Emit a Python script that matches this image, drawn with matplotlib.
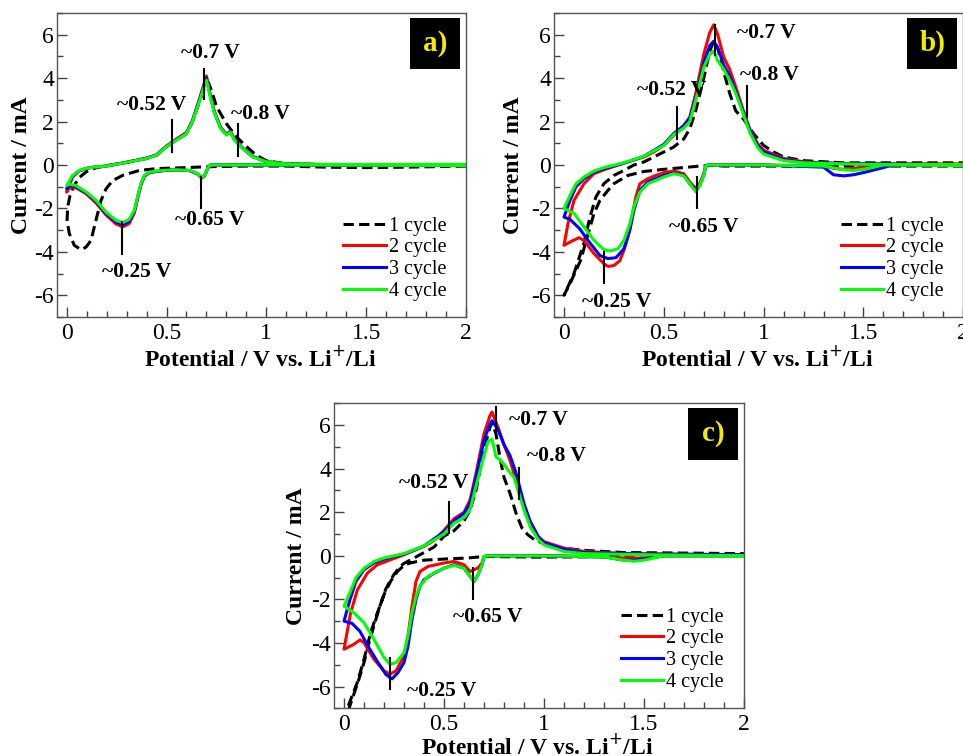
import numpy as np
import matplotlib
matplotlib.use('Agg')
import matplotlib.pyplot as plt
from matplotlib.patches import Rectangle
from matplotlib.ticker import MultipleLocator

plt.rcParams['font.family'] = ['Liberation Serif', 'DejaVu Serif']
plt.rcParams['axes.unicode_minus'] = False

# ---- panel a) ----
# cycle 1 (dashed)
a1_v = [2.0, 1.7, 1.5, 1.3, 1.1, 0.9, 0.7, 0.6, 0.5, 0.447, 0.364, 0.28, 0.23, 0.197, 0.172, 0.155, 0.138,
        0.122, 0.097, 0.072, 0.038, 0.013, 0.002, 0.005, 0.017, 0.035, 0.06, 0.1, 0.15, 0.2, 0.3, 0.4, 0.45,
        0.5, 0.55, 0.6, 0.63, 0.66, 0.69, 0.71, 0.73, 0.75, 0.8, 0.85, 0.9, 0.95, 1.0, 1.1, 1.3, 2.0]
a1_i = [-0.05, -0.1, -0.12, -0.1, -0.05, -0.05, -0.08, -0.12, -0.15, -0.17, -0.25, -0.48, -0.72, -1.1, -1.63,
        -2.24, -2.86, -3.47, -3.78, -3.9, -3.7, -3.15, -2.55, -1.93, -1.4, -1.0, -0.6, -0.3, -0.12, -0.03, 0.12,
        0.3, 0.45, 0.85, 1.15, 1.45, 2.0, 2.8, 3.55, 3.8, 3.3, 2.7, 1.9, 1.3, 0.85, 0.45, 0.2, 0.05, 0.02, 0.0]
# cycles 2-4 share the same potential points
a_v = [2.0, 1.5, 1.0, 0.8, 0.72, 0.71, 0.69, 0.676, 0.656, 0.614, 0.55, 0.5, 0.45, 0.414, 0.389, 0.372, 0.355,
       0.339, 0.313, 0.28, 0.247, 0.197, 0.147, 0.097, 0.047, 0.013, 0.0, 0.03, 0.063, 0.113, 0.197, 0.3, 0.4,
       0.45, 0.5, 0.55, 0.6, 0.63, 0.66, 0.69, 0.70, 0.72, 0.74, 0.77, 0.80, 0.82, 0.84, 0.88, 0.93, 1.0, 1.1,
       1.3, 2.0]
a2_i = [0, 0, 0, 0, 0, -0.08, -0.5, -0.6, -0.42, -0.26, -0.23, -0.25, -0.3, -0.36, -0.52, -0.92, -1.55, -2.2,
        -2.7, -2.85, -2.72, -2.3, -1.75, -1.32, -1.05, -1.05, -1.25, -0.55, -0.27, -0.13, -0.05, 0.13, 0.32,
        0.47, 0.88, 1.2, 1.5, 2.05, 2.9, 3.8, 4.1, 3.2, 2.45, 1.75, 1.42, 1.55, 1.2, 0.8, 0.4, 0.16, 0.05, 0.02, 0.0]
a3_i = [0, 0, 0, 0, 0, -0.08, -0.49, -0.59, -0.41, -0.25, -0.22, -0.24, -0.29, -0.34, -0.5, -0.89, -1.5, -2.14,
        -2.6, -2.75, -2.63, -2.23, -1.68, -1.28, -1.0, -0.95, -1.1, -0.5, -0.26, -0.12, -0.05, 0.12, 0.31,
        0.46, 0.86, 1.17, 1.47, 2.02, 2.85, 3.72, 4.0, 3.15, 2.42, 1.72, 1.4, 1.52, 1.17, 0.78, 0.39, 0.15, 0.05, 0.02, 0.0]
a4_i = [0, 0, 0, 0, 0, -0.08, -0.48, -0.58, -0.4, -0.25, -0.22, -0.24, -0.28, -0.33, -0.48, -0.86, -1.47, -2.08,
        -2.5, -2.65, -2.55, -2.17, -1.63, -1.24, -0.95, -0.88, -0.95, -0.48, -0.25, -0.12, -0.05, 0.12, 0.3,
        0.45, 0.85, 1.15, 1.45, 2.0, 2.8, 3.65, 3.9, 3.1, 2.4, 1.7, 1.38, 1.5, 1.15, 0.77, 0.38, 0.15, 0.05, 0.02, 0.0]

# ---- panel b) ----
b1_v = [2.0, 1.5, 1.0, 0.8, 0.75, 0.68, 0.62, 0.5, 0.4, 0.32, 0.25, 0.22, 0.18, 0.15, 0.117, 0.083, 0.033, 0.0,
        0.05, 0.1, 0.13, 0.16, 0.2, 0.25, 0.3, 0.35, 0.4, 0.45, 0.5, 0.55, 0.6, 0.63, 0.66, 0.7, 0.73, 0.75,
        0.77, 0.8, 0.83, 0.86, 0.9, 0.95, 1.0, 1.05, 1.1, 1.2, 1.4, 2.0]
b1_i = [-0.05, -0.05, -0.05, -0.05, -0.02, -0.05, -0.1, -0.2, -0.3, -0.48, -0.86, -1.17, -1.63, -2.24, -3.3,
        -4.4, -5.4, -6.0, -5.0, -3.6, -2.4, -1.47, -0.86, -0.48, -0.25, 0.0, 0.14, 0.37, 0.6, 0.83, 1.2, 1.67,
        2.5, 4.0, 5.25, 5.7, 5.4, 4.3, 3.3, 2.5, 2.1, 1.44, 0.9, 0.6, 0.37, 0.2, 0.1, 0.1]
b2_v = [2.0, 1.6, 1.5, 1.45, 1.4, 1.35, 1.3, 1.0, 0.72, 0.71, 0.70, 0.68, 0.66, 0.63, 0.6, 0.55, 0.5, 0.46,
        0.42, 0.38, 0.36, 0.34, 0.32, 0.3, 0.28, 0.25, 0.22, 0.2, 0.15, 0.1, 0.075, 0.04, 0.0,
        0.02, 0.05, 0.1, 0.15, 0.2, 0.3, 0.4, 0.45, 0.5, 0.55, 0.6, 0.63, 0.66, 0.7, 0.73, 0.75, 0.77, 0.8,
        0.83, 0.86, 0.9, 0.93, 0.97, 1.0, 1.1, 1.2, 1.4, 2.0]
b2_i = [0, 0, -0.1, -0.15, -0.2, -0.15, -0.05, 0, 0, -0.05, -0.4, -0.85, -1.08, -0.78, -0.4, -0.28, -0.35,
        -0.48, -0.63, -0.86, -1.47, -2.4, -3.32, -3.93, -4.4, -4.63, -4.67, -4.55, -4.08, -3.47, -3.35, -3.5,
        -3.7, -2.7, -1.63, -0.86, -0.4, -0.22, 0.09, 0.37, 0.6, 0.91, 1.37, 1.83, 2.2, 3.3, 5.1, 6.1, 6.46,
        6.0, 4.97, 4.4, 3.6, 2.45, 1.67, 0.98, 0.68, 0.3, 0.15, 0.05, 0.05]
b3_v = [2.0, 1.65, 1.5, 1.45, 1.4, 1.35, 1.3, 1.0, 0.72, 0.71, 0.70, 0.68, 0.66, 0.63, 0.6, 0.55, 0.5, 0.42,
        0.38, 0.35, 0.33, 0.3, 0.26, 0.22, 0.18, 0.12, 0.08, 0.03, 0.0,
        0.03, 0.06, 0.1, 0.15, 0.2, 0.3, 0.4, 0.5, 0.55, 0.6, 0.63, 0.66, 0.7, 0.73, 0.75, 0.77, 0.8, 0.83,
        0.86, 0.9, 0.93, 0.97, 1.0, 1.1, 1.2, 1.5, 2.0]
b3_i = [0, 0, -0.35, -0.45, -0.5, -0.45, -0.1, 0, 0, -0.05, -0.48, -0.94, -1.17, -0.86, -0.48, -0.37, -0.48,
        -0.78, -1.17, -2.1, -3.0, -3.86, -4.27, -4.31, -4.17, -3.47, -2.95, -2.5, -2.4,
        -1.63, -1.0, -0.63, -0.33, -0.17, 0.08, 0.4, 0.95, 1.45, 1.8, 2.15, 3.1, 4.7, 5.5, 5.7, 5.4, 4.6,
        4.1, 3.4, 2.4, 1.6, 0.9, 0.6, 0.25, 0.12, 0.05, 0.02]
b4_v = [2.0, 1.6, 1.5, 1.45, 1.4, 1.3, 1.0, 0.72, 0.71, 0.70, 0.68, 0.66, 0.63, 0.6, 0.55, 0.5, 0.42, 0.38,
        0.35, 0.33, 0.3, 0.27, 0.23, 0.2, 0.15, 0.1, 0.05, 0.0,
        0.03, 0.06, 0.1, 0.15, 0.2, 0.3, 0.4, 0.5, 0.55, 0.6, 0.63, 0.66, 0.7, 0.73, 0.75, 0.77, 0.8, 0.83,
        0.86, 0.9, 0.93, 0.97, 1.0, 1.1, 1.2, 1.5, 2.0]
b4_i = [0, 0, -0.2, -0.25, -0.22, -0.05, 0, 0, -0.05, -0.48, -0.94, -1.24, -0.86, -0.5, -0.4, -0.55, -0.86,
        -1.24, -1.93, -2.7, -3.47, -3.86, -3.96, -3.9, -3.47, -2.85, -2.23, -2.0,
        -1.4, -0.86, -0.55, -0.28, -0.12, 0.1, 0.4, 0.9, 1.4, 1.7, 2.0, 3.0, 4.5, 5.1, 5.25, 4.8, 4.4, 3.9,
        3.3, 2.3, 1.5, 0.8, 0.5, 0.2, 0.1, 0.03, 0.0]

# ---- panel c) ----
c1_v = [2.0, 1.5, 1.2, 0.95, 0.7, 0.62, 0.5, 0.4, 0.33, 0.3, 0.267, 0.233, 0.2, 0.167, 0.133, 0.1, 0.067,
        0.025, 0.0, 0.01, 0.04, 0.07, 0.1, 0.125, 0.15, 0.18, 0.21, 0.25, 0.28, 0.3, 0.35, 0.4, 0.45, 0.5,
        0.55, 0.6, 0.63, 0.66, 0.7, 0.73, 0.74, 0.76, 0.78, 0.8, 0.83, 0.86, 0.89, 0.92, 0.95, 1.0, 1.1, 1.2,
        1.4, 2.0]
c1_i = [0.05, 0.05, -0.05, -0.06, -0.03, -0.1, -0.15, -0.2, -0.33, -0.44, -0.72, -1.17, -1.78, -2.62, -3.53,
        -4.75, -5.8, -6.8, -7.4, -7.4, -6.6, -5.8, -4.9, -4.0, -3.2, -2.3, -1.5, -0.85, -0.5, -0.35, -0.1,
        0.15, 0.4, 0.9, 1.15, 1.6, 2.1, 3.0, 4.9, 5.9, 6.1, 5.6, 4.5, 3.6, 2.87, 1.96, 1.27, 0.96, 0.75,
        0.55, 0.35, 0.25, 0.15, 0.1]
c2_v = [2.0, 1.6, 1.5, 1.4, 1.3, 1.0, 0.72, 0.70, 0.69, 0.67, 0.65, 0.63, 0.6, 0.55, 0.5, 0.42, 0.38, 0.36,
        0.34, 0.32, 0.3, 0.26, 0.23, 0.2, 0.15, 0.1, 0.08, 0.05, 0.0,
        0.033, 0.067, 0.117, 0.167, 0.233, 0.3, 0.4, 0.45, 0.5, 0.55, 0.6, 0.63, 0.66, 0.7, 0.73, 0.74, 0.77,
        0.8, 0.83, 0.86, 0.9, 0.93, 0.97, 1.0, 1.1, 1.2, 1.4, 2.0]
c2_i = [0, 0, -0.1, -0.1, -0.05, 0, 0, -0.03, -0.33, -0.56, -0.64, -0.72, -0.41, -0.26, -0.33, -0.49, -0.72,
        -1.17, -2.31, -3.68, -4.6, -5.28, -5.43, -5.28, -4.75, -3.99, -3.86, -4.06, -4.29,
        -2.62, -1.56, -0.79, -0.41, -0.18, 0.05, 0.43, 0.7, 1.17, 1.7, 2.0, 2.56, 3.78, 5.6, 6.44, 6.6, 5.9,
        5.1, 4.38, 3.47, 2.25, 1.57, 0.88, 0.65, 0.35, 0.2, 0.1, 0.05]
c3_v = [2.0, 1.6, 1.5, 1.45, 1.4, 1.3, 1.0, 0.72, 0.70, 0.69, 0.67, 0.65, 0.63, 0.6, 0.55, 0.5, 0.45, 0.4,
        0.38, 0.36, 0.34, 0.32, 0.3, 0.27, 0.24, 0.21, 0.17, 0.12, 0.08, 0.04, 0.0,
        0.03, 0.06, 0.1, 0.15, 0.2, 0.3, 0.4, 0.5, 0.55, 0.6, 0.63, 0.66, 0.7, 0.73, 0.74, 0.77, 0.8, 0.83,
        0.86, 0.9, 0.93, 0.97, 1.0, 1.1, 1.2, 1.5, 2.0]
c3_i = [0, 0, -0.15, -0.2, -0.2, -0.05, 0, 0, -0.05, -0.41, -0.87, -1.17, -0.94, -0.57, -0.41, -0.57, -0.8,
        -1.1, -1.4, -2.0, -2.93, -4.15, -4.9, -5.36, -5.65, -5.45, -4.9, -4.15, -3.47, -3.1, -3.0,
        -2.0, -1.17, -0.64, -0.33, -0.15, 0.08, 0.45, 1.1, 1.6, 1.95, 2.4, 3.6, 5.3, 6.05, 6.2, 5.8, 5.1,
        4.6, 3.8, 2.4, 1.6, 0.9, 0.6, 0.3, 0.15, 0.08, 0.05]
c4_v = [2.0, 1.6, 1.5, 1.45, 1.4, 1.3, 1.0, 0.72, 0.70, 0.69, 0.67, 0.65, 0.63, 0.6, 0.55, 0.5, 0.42, 0.38,
        0.36, 0.34, 0.32, 0.3, 0.26, 0.23, 0.2, 0.15, 0.1, 0.05, 0.0,
        0.03, 0.06, 0.1, 0.15, 0.2, 0.3, 0.4, 0.5, 0.55, 0.6, 0.63, 0.66, 0.7, 0.72, 0.74, 0.76, 0.78, 0.8,
        0.82, 0.85, 0.87, 0.9, 0.93, 0.97, 1.0, 1.1, 1.2, 1.5, 2.0]
c4_i = [0, 0, -0.2, -0.25, -0.2, -0.05, 0, 0, -0.03, -0.41, -0.87, -1.2, -0.94, -0.57, -0.44, -0.57, -0.94,
        -1.4, -1.86, -2.62, -3.68, -4.45, -4.9, -4.98, -4.67, -3.84, -3.07, -2.62, -2.31,
        -1.68, -1.0, -0.57, -0.26, -0.1, 0.1, 0.45, 1.0, 1.5, 1.75, 2.1, 3.2, 4.6, 5.25, 5.35, 4.54, 4.4,
        4.2, 3.93, 3.6, 3.0, 2.1, 1.35, 0.75, 0.5, 0.2, 0.1, 0.05, 0.0]

cycle_labels = ['1 cycle', '2 cycle', '3 cycle', '4 cycle']
peak_labels = ['~0.7 V', '~0.52 V', '~0.8 V', '~0.65 V', '~0.25 V']

# peak markers per panel: (x, y_bottom, y_top, text_x, text_y) in data units
marks_a = [(0.687, 3.06, 4.44, 0.72, 5.18), (0.526, 0.6, 2.06, 0.425, 2.75), (0.856, 0.41, 1.88, 0.968, 2.37),
           (0.671, -2.0, -0.55, 0.718, -2.55), (0.275, -4.08, -2.63, 0.35, -4.93)]
marks_b = [(0.757, 5.06, 6.44, 1.015, 6.06), (0.568, 1.22, 2.67, 0.54, 3.44), (0.919, 2.21, 3.63, 1.03, 4.13),
           (0.665, -2.0, -0.55, 0.70, -2.86), (0.202, -5.44, -4.0, 0.264, -6.31)]
marks_c = [(0.76, 5.45, 6.85, 0.97, 6.24), (0.527, 1.03, 2.48, 0.447, 3.32), (0.877, 2.63, 4.05, 1.06, 4.57),
           (0.647, -2.0, -0.56, 0.72, -2.8), (0.23, -6.12, -4.67, 0.49, -6.2)]

colors = ['black', '#ff0000', '#0000ff', '#00ff00']


def panel(ax, curves, marks, tag, ylab_x, xlab_y):
    for k, (v, i) in enumerate(curves):
        if k == 0:
            ax.plot(v, i, color=colors[k], lw=2.2, ls=(0, (3.4, 1.7)), label=cycle_labels[k])
        else:
            ax.plot(v, i, color=colors[k], lw=2.2, label=cycle_labels[k])
    for (x, y0, y1, tx, ty), txt in zip(marks, peak_labels):
        ax.plot([x, x], [y0, y1], color='black', lw=1.5)
        ax.text(tx, ty, txt, ha='center', va='center', fontsize=15.5, fontweight='bold')
    ax.set_xlim(-0.05, 2)
    ax.set_ylim(-7, 7)
    ax.xaxis.set_minor_locator(MultipleLocator(0.1))
    ax.yaxis.set_major_locator(MultipleLocator(2))
    ax.yaxis.set_minor_locator(MultipleLocator(1))
    ax.set_xticks([0, 0.5, 1, 1.5, 2])
    ax.set_xticklabels(['0', '0.5', '1', '1.5', '2'])
    ax.tick_params(which='both', direction='in', labelsize=17, color='#444444')
    ax.tick_params(which='major', length=7, width=1)
    ax.tick_params(which='minor', length=4, width=1)
    ax.tick_params(axis='y', pad=2)
    ax.tick_params(axis='x', pad=4)
    for s in ax.spines.values():
        s.set_color('#555555')
        s.set_linewidth(1.0)
    ax.set_xlabel('Potential / V vs. Li$^{+}$/Li', fontsize=17, fontweight='bold')
    ax.set_ylabel('Current / mA', fontsize=17, fontweight='bold')
    ax.xaxis.set_label_coords(0.496, xlab_y)
    ax.yaxis.set_label_coords(ylab_x, 0.5)
    ax.xaxis.label.set_va('center')
    ax.yaxis.label.set_va('center')
    ax.add_patch(Rectangle((1.72, 4.42), 0.25, 2.37, facecolor='black', edgecolor='none', zorder=5))
    ax.text(1.845, 5.6, tag, ha='center', va='center', fontsize=21, fontweight='bold',
            color='#f2ea00', zorder=6)
    ax.legend(loc='upper left', bbox_to_anchor=(0.70, 0.33), frameon=False, fontsize=14.5,
              handlelength=2.1, handletextpad=0.15, labelspacing=0.13, borderpad=0, borderaxespad=0)


fig = plt.figure(figsize=(9.63, 7.56), dpi=100)
ax_a = fig.add_axes([56.7 / 963, 1 - 317 / 756, 409.3 / 963, 304 / 756])
ax_b = fig.add_axes([554 / 963, 1 - 317 / 756, 409.3 / 963, 304 / 756])
ax_c = fig.add_axes([334 / 963, 1 - 708.3 / 756, 410 / 963, 305 / 756])

panel(ax_a, [(a1_v, a1_i), (a_v, a2_i), (a_v, a3_i), (a_v, a4_i)], marks_a, 'a)', -0.086, -0.135)
panel(ax_b, [(b1_v, b1_i), (b2_v, b2_i), (b3_v, b3_i), (b4_v, b4_i)], marks_b, 'b)', -0.1, -0.135)
panel(ax_c, [(c1_v, c1_i), (c2_v, c2_i), (c3_v, c3_i), (c4_v, c4_i)], marks_c, 'c)', -0.091, -0.126)

fig.savefig('out.png', dpi=100)
